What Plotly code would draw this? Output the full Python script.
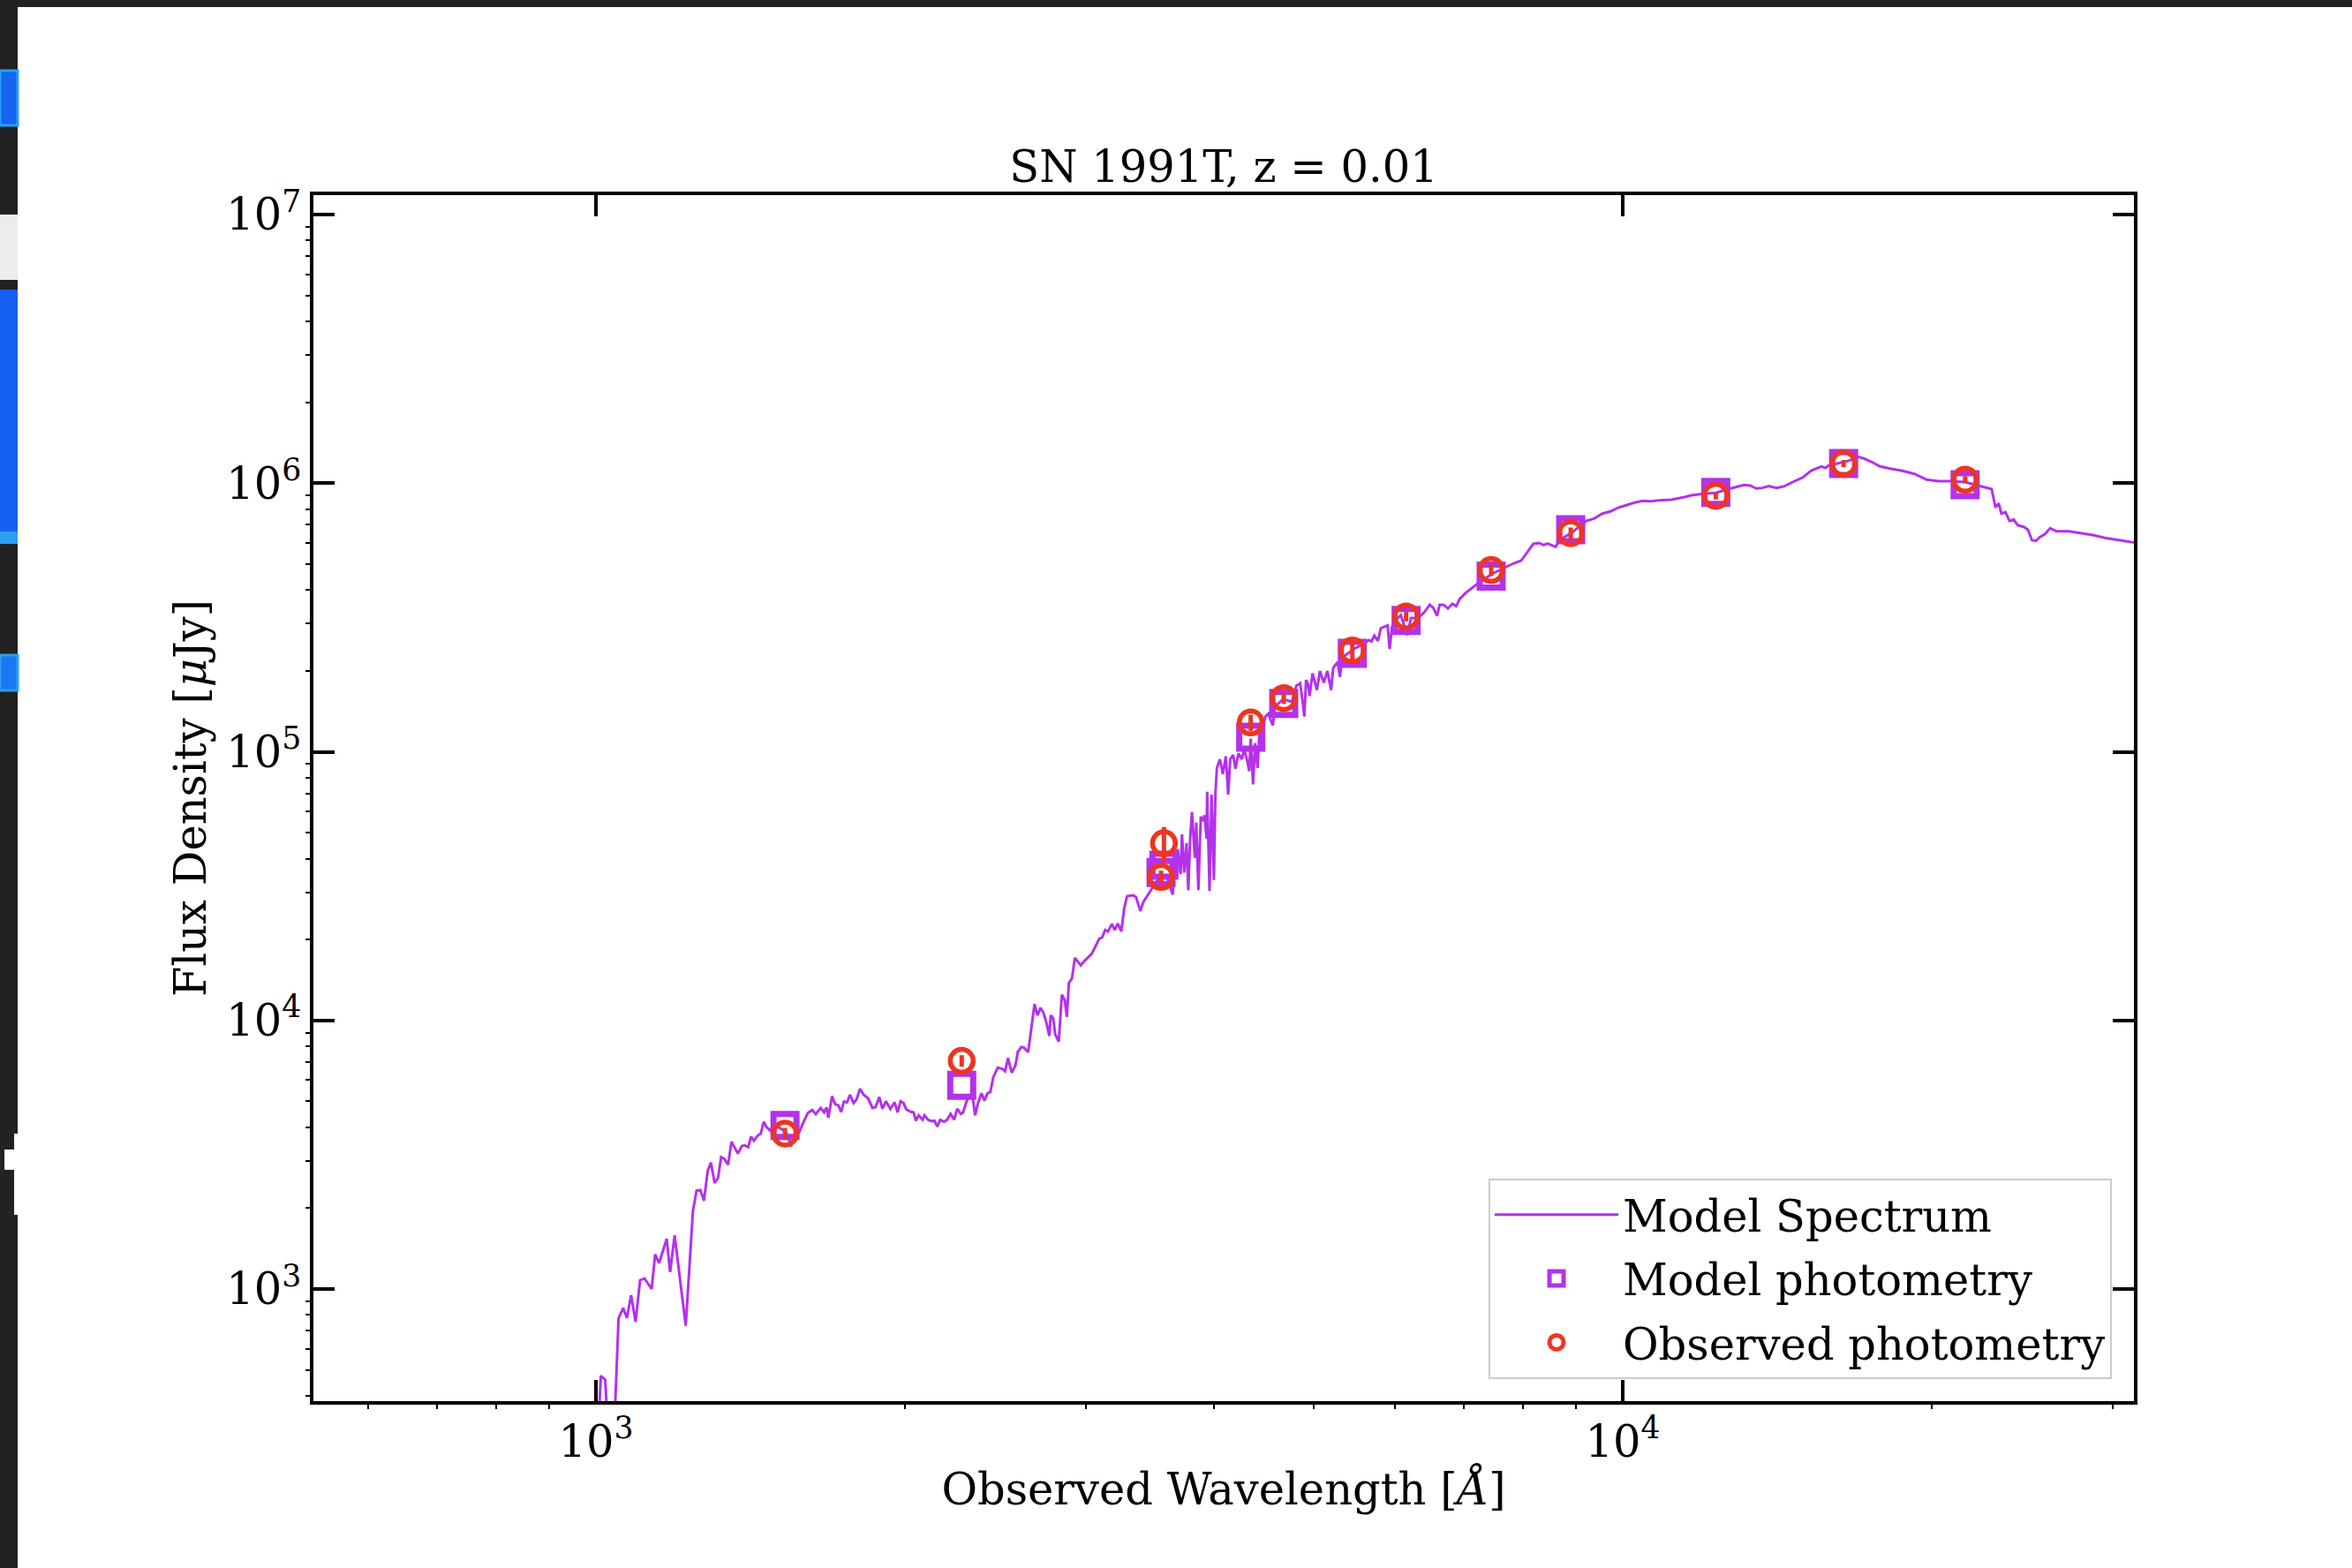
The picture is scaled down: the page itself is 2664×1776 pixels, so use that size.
import plotly.graph_objects as go

# ---------------- data ----------------
title_text = "SN 1991T, z = 0.01"
x_label = "Observed Wavelength [<i>Å</i>]"
y_label = "Flux Density [<i>μ</i>Jy]"

x_tick_vals = [1000, 10000]
x_tick_text = ["10<sup>3</sup>", "10<sup>4</sup>"]
y_tick_vals = [1e3, 1e4, 1e5, 1e6, 1e7]
y_tick_text = ["10<sup>3</sup>", "10<sup>4</sup>", "10<sup>5</sup>", "10<sup>6</sup>", "10<sup>7</sup>"]

# model spectrum (Angstrom, micro-Jansky)
spec_wave = [
    1003, 1011, 1021, 1030, 1040, 1052, 1063, 1072, 1082, 1093, 1104, 1115, 1133, 1142, 1152,
    1172, 1181, 1193, 1223, 1234, 1243, 1253, 1264, 1274, 1285, 1294, 1305, 1315, 1324, 1334,
    1345, 1355, 1364, 1375, 1387, 1396, 1407, 1416, 1425, 1438, 1447, 1457, 1466, 1478, 1491,
    1505, 1521, 1536, 1548, 1561, 1577, 1592, 1608, 1624, 1637, 1655, 1668, 1677, 1684, 1698,
    1710, 1722, 1733, 1744, 1756, 1768, 1782, 1794, 1808, 1823, 1841, 1859, 1872, 1888, 1901,
    1916, 1935, 1954, 1967, 1980, 1993, 2006, 2026, 2039, 2049, 2062, 2080, 2089, 2108, 2126,
    2136, 2150, 2164, 2183, 2198, 2215, 2233, 2248, 2267, 2278, 2297, 2312, 2328, 2340, 2355,
    2374, 2390, 2406, 2422, 2438, 2462, 2487, 2503, 2520, 2540, 2562, 2575, 2596, 2612, 2636,
    2648, 2674, 2692, 2710, 2728, 2746, 2764, 2773, 2788, 2801, 2823, 2843, 2862, 2875, 2888,
    2908, 2927, 2966, 2991, 3041, 3091, 3112, 3133, 3153, 3180, 3201, 3223, 3248, 3270, 3291,
    3335, 3357, 3390, 3413, 3481, 3516, 3562, 3597, 3621, 3645, 3662, 3686, 3710, 3722, 3740,
    3760, 3775, 3792, 3806, 3831, 3843, 3861, 3882, 3902, 3915, 3933, 3938, 3959, 3977, 3998,
    4011, 4025, 4052, 4079, 4106, 4128, 4147, 4174, 4196, 4224, 4257, 4279, 4308, 4328, 4342,
    4365, 4385, 4409, 4429, 4459, 4488, 4518, 4542, 4563, 4584, 4623, 4669, 4716, 4762, 4810,
    4851, 4874, 4897, 4916, 4938, 4955, 4988, 5037, 5071, 5115, 5156, 5200, 5224, 5276, 5304,
    5329, 5400, 5471, 5543, 5598, 5654, 5691, 5729, 5775, 5813, 5863, 5902, 5929, 5961, 6020,
    6080, 6170, 6220, 6304, 6368, 6410, 6487, 6538, 6594, 6633, 6691, 6757, 6824, 6883, 6938,
    7031, 7240, 7459, 7680, 7821, 7962, 8035, 8183, 8295, 8371, 8447, 8603, 8681, 8924, 9210,
    9378, 9553, 9728, 9904, 10090, 10270, 10460, 10650, 10850, 11150, 11460, 11670, 11990, 12320, 12660,
    12890, 13130, 13310, 13490, 13680, 13870, 14120, 14380, 14640, 14980, 15250, 15610, 15750, 15890, 16180,
    16410, 16630, 16930, 17170, 17480, 17800, 18210, 18720, 19230, 19770, 20310, 20870, 21550, 22240, 22870,
    22960, 23070, 23230, 23380, 23590, 23810, 24030, 24250, 24580, 24810, 25030, 25260, 25490, 25770, 26080,
    26440, 27170, 27920, 28690, 29490, 30300, 31280, 32300,
]
spec_flux = [
    250, 475, 459, 250, 250, 778, 849, 780, 949, 755, 1079, 1095, 1000, 1346, 1248,
    1538, 1157, 1585, 730, 1287, 1951, 2322, 2334, 2132, 2756, 2958, 2480, 2595, 3096, 3050,
    2900, 3530, 3374, 3192, 3408, 3425, 3374, 3694, 3566, 3731, 3788, 4192, 4006, 3887, 4108,
    4006, 3906, 3760, 3400, 3622, 3827, 4159, 4520, 4636, 4476, 4719, 4544, 4743, 4341, 5220,
    4875, 4826, 4567, 4988, 4950, 5285, 4925, 5077, 5559, 5285, 5127, 4719, 4754, 5181, 4683,
    5000, 4683, 4950, 4544, 5000, 4925, 4660, 4567, 4544, 4234, 4430, 4266, 4430, 4256, 4213,
    4234, 4026, 4266, 4192, 4266, 4486, 4266, 4683, 4486, 4544, 5025, 5220, 5181, 4430, 4900,
    5353, 5025, 5353, 5421, 6151, 6667, 6600, 6467, 7244, 6387, 6803, 7621, 7956, 7916, 7621,
    8755, 11500, 10440, 11130, 10660, 9806, 8755, 10440, 10180, 8866, 8325, 12460, 11850, 10310, 13790,
    14320, 17080, 16040, 16660, 17740, 20130, 20380, 21710, 21440, 22830, 21710, 22950, 21440, 26230, 29010,
    29230, 28800, 25570, 27590, 31060, 32920, 34190, 34620, 31700, 29380, 37830, 43440, 35060, 49290, 35500,
    45680, 30520, 48670, 59560, 40270, 54510, 30520, 57330, 55210, 58060, 47460, 71040, 30290, 69270, 33340,
    69270, 86970, 93770, 82660, 96160, 69270, 93770, 97390, 86500, 98630, 93770, 102400, 92600, 84760, 111900,
    75680, 107700, 86970, 120700, 123800, 135200, 138700, 130800, 125300, 147700, 151400, 157300, 155300, 153400, 176200,
    179800, 157300, 135200, 185300, 178500, 161300, 195900, 169700, 199800, 180700, 199800, 169700, 205000, 215600, 190000,
    223900, 232600, 241500, 247700, 250800, 260500, 257300, 270500, 258600, 288200, 293300, 295500, 241500, 291800, 310800,
    322800, 271900, 314700, 314700, 322800, 331100, 352600, 343800, 321200, 352600, 352600, 341300, 355200, 348200, 370800,
    390000, 426000, 459500, 483500, 502200, 514700, 541600, 594300, 598800, 588400, 595700, 579500, 614000, 654200, 723300,
    738300, 770300, 784500, 810600, 831000, 846300, 859300, 856700, 863200, 867600, 885500, 901200, 912900, 919800, 950300,
    967300, 984700, 979500, 955300, 960100, 974600, 960100, 974600, 1009500, 1051000, 1111000, 1154000, 1139600, 1168500, 1183400,
    1198700, 1213400, 1254300, 1235700, 1198700, 1154000, 1133500, 1111000, 1083100, 1030200, 1017200, 1017200, 1009500, 979500, 950300,
    885500, 810600, 841800, 770300, 780300, 723300, 732800, 696700, 687800, 670700, 614000, 609400, 630200, 645900, 679500,
    662300, 662300, 650800, 641000, 625200, 614000, 603300, 598000,
]

# photometry (GALEX FUV/NUV, u, U, B, g, V, r, i, z, J, H, Ks)
phot_wave = [1528, 2271, 3551, 3574, 4342, 4676, 5453, 6152, 7445, 8899, 12320, 16410, 21550]
obs_flux = [3790, 7070, 34190, 45670, 128500, 158500, 238500, 318700, 475000, 651000, 897000, 1183000, 1030000]
obs_err = [190, 350, 1900, 6800, 9000, 7900, 21000, 13000, 24000, 33000, 27000, 36000, 31000]
model_flux = [4060, 5730, 35500, 37830, 113300, 151400, 232600, 308500, 451200, 671000, 924000, 1183000, 987000]

# ---------------- styling ----------------
PURPLE = "#b332ea"
RED = "#ee3520"
FONT = "DejaVu Serif"
FS = 49.5
W, H = 2664, 1776
L, R, T, B = 355, 2417, 221, 1587  # plot area in pixels


def px_x(px):
    return (px - L) / (R - L)


def px_y(py):
    return (B - py) / (B - T)


x_range = [2.72485, 4.49785]
y_range = [2.58258, 7.07231]

x_minor = [d * 10 ** e for e in range(2, 5) for d in range(2, 10)]
y_minor = [d * 10 ** e for e in range(2, 8) for d in range(2, 10)]

fig = go.Figure()
fig.add_trace(go.Scatter(
    x=spec_wave, y=spec_flux, mode="lines", name="Model Spectrum",
    line=dict(color=PURPLE, width=3), legendgroup="g1",
))
fig.add_trace(go.Scatter(
    x=phot_wave, y=model_flux, mode="markers", name="Model photometry",
    marker=dict(symbol="square-open", size=26, color=PURPLE, line=dict(width=7, color=PURPLE)),
    legendgroup="g2",
))
fig.add_trace(go.Scatter(
    x=phot_wave, y=obs_flux, mode="markers", name="Observed photometry",
    error_y=dict(type="data", array=obs_err, color=RED, thickness=5, width=0),
    marker=dict(symbol="circle-open", size=26, color=RED, line=dict(width=5.5, color=RED)),
    legendgroup="g3",
))
# helper trace so the mirrored tick axes (top / right) are drawn
fig.add_trace(go.Scatter(x=[], y=[], xaxis="x2", yaxis="y2", showlegend=False, hoverinfo="skip"))

axis_common = dict(
    type="log", showgrid=False, zeroline=False,
    showline=True, linewidth=3.5, linecolor="black", mirror=True,
    ticks="inside", ticklen=24, tickwidth=3.5, tickcolor="black",
    tickfont=dict(family=FONT, size=FS, color="black"),
    automargin=False,
)

fig.update_layout(
    width=W, height=H, autosize=False,
    margin=dict(l=L, r=W - R, t=T, b=H - B, pad=0),
    paper_bgcolor="#222222", plot_bgcolor="white",
    font=dict(family=FONT, size=FS, color="black"),
    title=dict(text=title_text, x=0.5, xref="paper", xanchor="center",
               y=1 - 189 / H, yref="container", yanchor="middle",
               font=dict(family=FONT, size=FS, color="black")),
    xaxis=dict(
        **axis_common, range=x_range, tickvals=x_tick_vals, ticktext=x_tick_text,
        title=dict(text=x_label, font=dict(family=FONT, size=FS, color="black"), standoff=9),
        minor=dict(tickvals=x_minor, ticks="outside", ticklen=5, tickwidth=2, tickcolor="black", showgrid=False),
    ),
    yaxis=dict(
        **axis_common, range=y_range, tickvals=y_tick_vals, ticktext=y_tick_text,
        title=dict(text=y_label, font=dict(family=FONT, size=FS, color="black"), standoff=8),
        minor=dict(tickvals=y_minor, ticks="outside", ticklen=5, tickwidth=2, tickcolor="black", showgrid=False),
    ),
    xaxis2=dict(
        type="log", overlaying="x", side="top", anchor="y2", range=x_range,
        tickvals=x_tick_vals, showticklabels=False, showgrid=False, zeroline=False, showline=False,
        ticks="inside", ticklen=24, tickwidth=3.5, tickcolor="black",
    ),
    yaxis2=dict(
        type="log", overlaying="y", side="right", anchor="x2", range=y_range,
        tickvals=y_tick_vals, showticklabels=False, showgrid=False, zeroline=False, showline=False,
        ticks="inside", ticklen=24, tickwidth=3.5, tickcolor="black",
    ),
    legend=dict(
        x=px_x(2392), y=px_y(1562), xanchor="right", yanchor="bottom",
        bgcolor="white", bordercolor="#cccccc", borderwidth=2,
        font=dict(family=FONT, size=FS, color="black"),
        tracegroupgap=5, itemwidth=140,
    ),
    showlegend=True,
)

# screenshot frame: white page on a dark window with some blue artefacts at the left edge
shapes = [
    dict(type="rect", xref="paper", yref="paper", layer="below",
         x0=px_x(20), x1=px_x(W), y0=px_y(H), y1=px_y(8),
         fillcolor="white", line=dict(width=0)),
    dict(type="rect", xref="paper", yref="paper", layer="below",
         x0=px_x(0), x1=px_x(20), y0=px_y(142), y1=px_y(80),
         fillcolor="#1565f0", line=dict(width=3, color="#2aa0f0")),
    dict(type="rect", xref="paper", yref="paper", layer="below",
         x0=px_x(0), x1=px_x(20), y0=px_y(317), y1=px_y(243),
         fillcolor="#ececec", line=dict(width=0)),
    dict(type="rect", xref="paper", yref="paper", layer="below",
         x0=px_x(0), x1=px_x(20), y0=px_y(612), y1=px_y(328),
         fillcolor="#1560f2", line=dict(width=0)),
    dict(type="rect", xref="paper", yref="paper", layer="below",
         x0=px_x(0), x1=px_x(20), y0=px_y(616), y1=px_y(602),
         fillcolor="#2aa0f0", line=dict(width=0)),
    dict(type="rect", xref="paper", yref="paper", layer="below",
         x0=px_x(0), x1=px_x(20), y0=px_y(782), y1=px_y(742),
         fillcolor="#1a78f0", line=dict(width=3, color="#2aa0f0")),
    dict(type="rect", xref="paper", yref="paper", layer="below",
         x0=px_x(5), x1=px_x(20), y0=px_y(1325), y1=px_y(1302),
         fillcolor="white", line=dict(width=0)),
    dict(type="rect", xref="paper", yref="paper", layer="below",
         x0=px_x(16), x1=px_x(20), y0=px_y(1376), y1=px_y(1284),
         fillcolor="white", line=dict(width=0)),
]
fig.update_layout(shapes=shapes)

fig.write_html("out.html")
